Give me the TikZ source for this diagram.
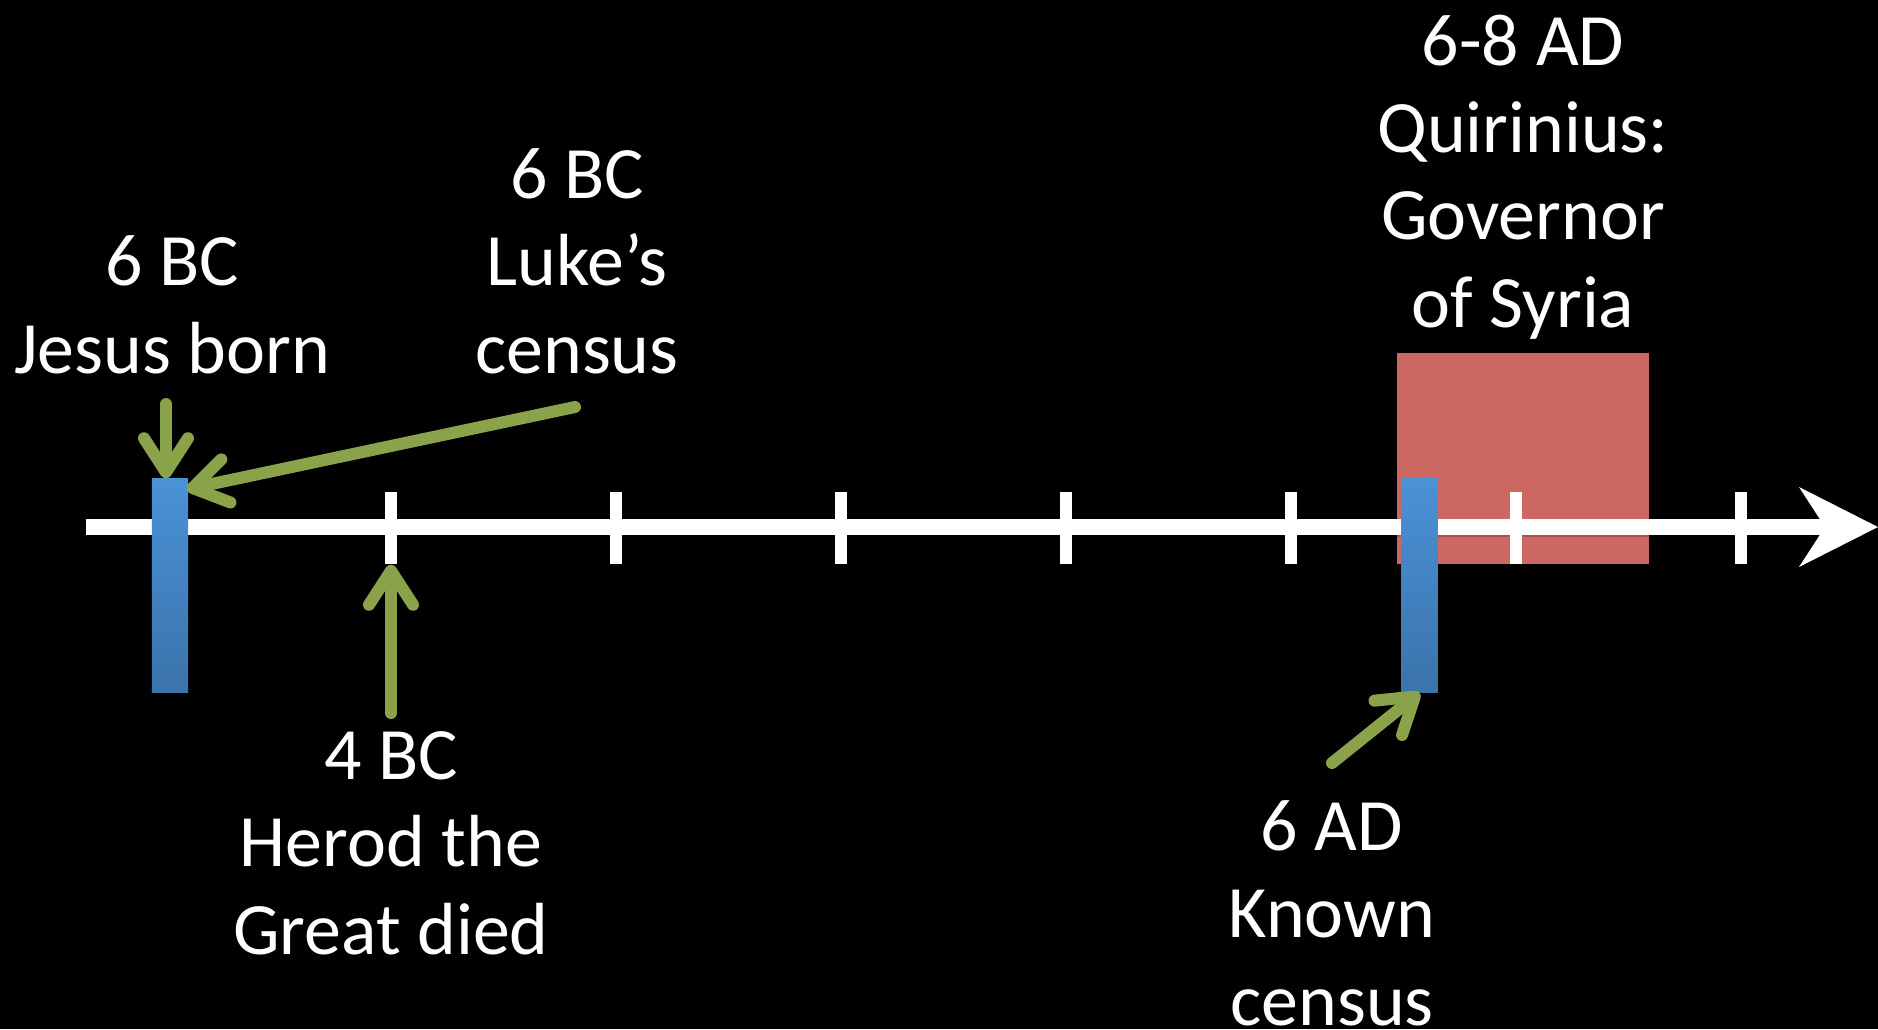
\documentclass[tikz,border=0pt]{standalone}
\usepackage{fontspec}
\setmainfont{Carlito}
\usetikzlibrary{arrows.meta}

\definecolor{olive}{RGB}{138,162,74}
\definecolor{brick}{RGB}{205,103,97}
\definecolor{skytop}{RGB}{74,146,214}
\definecolor{skybot}{RGB}{59,115,171}

\begin{document}
\begin{tikzpicture}[x=0.01cm,y=-0.01cm,
  eventtext/.style={text=white,align=center,anchor=base,inner sep=0pt,font=\fontsize{21}{24.8}\selectfont},
  pointer/.style={olive,line width=0.12cm,line cap=round,-{Straight Barb[length=3.4mm,width=4.4mm,round]}},
  eventbar/.style={rectangle,inner sep=0pt,minimum width=0.36cm,minimum height=2.13cm,top color=skytop,bottom color=skybot},
  yearmark/.style={fill=white,inner sep=0pt,minimum width=0.12cm,minimum height=0.72cm}]

\fill[black,use as bounding box] (0,0) rectangle (1878,1029);

% governor period
\node[fill=brick,inner sep=0pt,minimum width=2.52cm,minimum height=2.11cm] (gov) at (1523,458.5) {};

% time line
\coordinate (start) at (86,527);
\coordinate (end) at (1878,527);
\draw[black,opacity=0.2,line width=0.1cm] ([yshift=-0.05cm]start) -- ([yshift=-0.05cm]end);
\draw[white,line width=0.16cm,-{Stealth[length=0.79cm,width=0.8cm,inset=0.26cm,line width=0pt]}] (start) -- (end);
\foreach \i in {0,...,6}{
	\node[yearmark] (tick\i) at (391+225*\i,528) {};
	}

\node[eventbar] (birth) at (170,585.5) {};
\node[eventbar] (census) at (1419.5,585.5) {};

% text anchored at the base of its last line
\node[eventtext] (jesus) at (172,373) {6 BC\\Jesus born};
\node[eventtext] (luke) at (577,373) {6 BC\\Luke’s\\census};
\node[eventtext] (quirinius) at (1523,327) {6-8 AD\\Quirinius:\\Governor\\of Syria};
\node[eventtext] (herod) at (391,954) {4 BC\\Herod the\\Great died};
\node[eventtext] (known) at (1332,1025) {6 AD\\Known\\census};

% pointers
\coordinate (p1) at (166,404);
\coordinate (p2) at (575,407);
\coordinate (p3) at (391,713);
\coordinate (p4) at (1332,763);
\draw[pointer] (p1) -- (p1 |- birth.north);
\draw[pointer] (p2) -- ([shift={(-2,11)}]birth.north east);
\draw[pointer] (p3) -- (tick0.south);
\draw[pointer] (p4) -- (census.south);
\end{tikzpicture}
\end{document}
